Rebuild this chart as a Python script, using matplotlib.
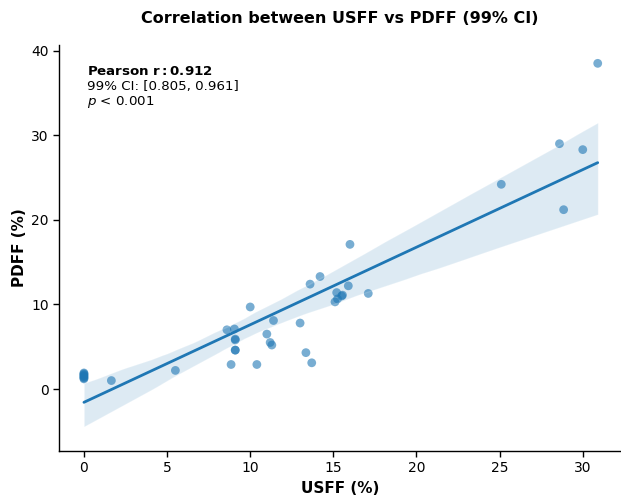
import numpy as np
import matplotlib
matplotlib.use("Agg")
import matplotlib.pyplot as plt
import seaborn as sns

usff = [0, 0, 0, 0, 0, 0, 0, 0, 1.65, 5.5, 8.6, 9.05, 9.1, 9.1, 9.1, 9.1, 8.85, 10.0, 10.4,
        11.0, 11.2, 11.3, 11.4, 13.0, 13.35, 13.7, 13.6, 14.2, 15.1, 15.25, 15.2,
        15.5, 15.55, 15.9, 16.0, 17.1, 25.1, 28.6, 28.85, 30.0, 30.9]
pdff = [1.2, 1.3, 1.4, 1.5, 1.6, 1.7, 1.8, 1.9, 1.0, 2.2, 7.0, 7.1, 5.9, 5.8, 4.6, 4.6, 2.9, 9.7, 2.9,
        6.5, 5.5, 5.2, 8.1, 7.8, 4.3, 3.1, 12.4, 13.3, 10.3, 10.65, 11.4,
        11.0, 11.1, 12.2, 17.1, 11.3, 24.2, 29.0, 21.2, 28.3, 38.5]

sns.set_style("white")
plt.rcParams['font.family'] = ['DejaVu Sans']
plt.rcParams['text.color'] = 'black'
plt.rcParams['axes.labelcolor'] = 'black'

fig = plt.figure(figsize=(6.21, 4.97), dpi=100)
ax = fig.add_axes([0.095, 0.093, 0.905, 0.817])
sns.regplot(x=usff, y=pdff, ci=99, n_boot=1000, seed=3, ax=ax,
            scatter_kws=dict(s=40, alpha=0.6, color='#1f77b4', edgecolor='none'),
            line_kws=dict(color='#1f77b4', lw=2))
ax.set_xlim(-1.5, 32.3)
ax.set_ylim(-7.3, 40.7)
ax.set_xticks([0, 5, 10, 15, 20, 25, 30])
ax.set_yticks([0, 10, 20, 30, 40])
sns.despine(ax=ax)
for s in ['left', 'bottom']:
    ax.spines[s].set_color('black')
    ax.spines[s].set_linewidth(1.0)
ax.tick_params(axis='both', which='both', direction='out', length=4, width=1,
               labelsize=10, bottom=True, left=True, colors='black')
ax.set_xlabel('USFF (%)', fontsize=11, fontweight='bold', labelpad=4)
ax.set_ylabel('PDFF (%)', fontsize=11, fontweight='bold', labelpad=3)
ax.set_title('Correlation between USFF vs PDFF (99% CI)', fontsize=11.5,
             fontweight='bold', pad=16)
ax.text(0.05, 0.95, r'$\bf{Pearson\ r:0.912}$' + '\n99% CI: [0.805, 0.961]\n$p$ < 0.001',
        transform=ax.transAxes, fontsize=9.6, va='top', ha='left', linespacing=1.15)
fig.savefig('out.png', dpi=100)
